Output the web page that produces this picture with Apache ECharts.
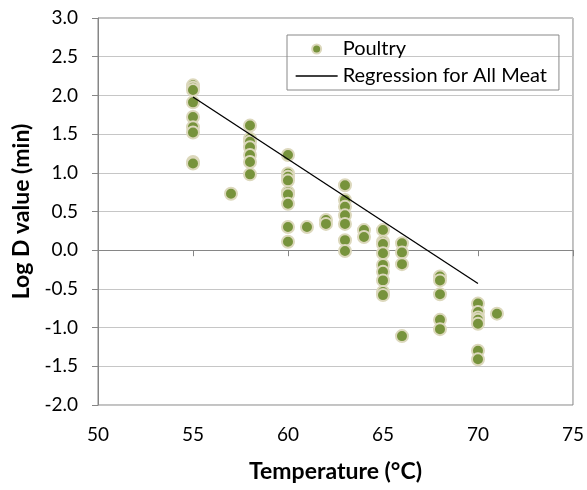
<!DOCTYPE html>
<html>
<head>
<meta charset="utf-8">
<script src="https://cdn.jsdelivr.net/npm/echarts@6/dist/echarts.min.js"></script>
<style>html,body{margin:0;padding:0;background:#fff;}#container{width:587px;height:490px;}</style>
</head>
<body>
<div id="container"></div>
<script>
// poultry points: [temperature, log D]
var poultry = [
    [55, 2.13], [55, 2.10], [55, 2.07], [55, 1.91], [55, 1.72], [55, 1.59], [55, 1.52], [55, 1.14], [55, 1.12],
    [57, 0.73],
    [58, 1.61], [58, 1.44], [58, 1.40], [58, 1.33], [58, 1.23], [58, 1.14], [58, 0.98],
    [60, 1.23], [60, 0.99], [60, 0.95], [60, 0.90], [60, 0.75], [60, 0.72], [60, 0.60], [60, 0.30], [60, 0.11],
    [61, 0.30],
    [62, 0.39], [62, 0.34],
    [63, 0.84], [63, 0.65], [63, 0.56], [63, 0.45], [63, 0.34], [63, 0.13], [63, -0.01],
    [64, 0.26], [64, 0.17],
    [65, 0.26], [65, 0.11], [65, 0.08], [65, -0.04], [65, -0.19], [65, -0.28], [65, -0.39], [65, -0.54], [65, -0.58],
    [66, 0.09], [66, -0.03], [66, -0.18], [66, -1.11],
    [68, -0.34], [68, -0.39], [68, -0.57], [68, -0.90], [68, -1.02],
    [70, -0.69], [70, -0.80], [70, -0.87], [70, -0.90], [70, -0.95], [70, -1.30], [70, -1.41],
    [71, -0.82]
];
var regression = [[55, 1.98], [70, -0.43]];
var xTicks = [50, 75, 5];
var yTicks = [-2, 3, 0.5];

var dom = document.getElementById("container");
var myChart = echarts.init(dom);
var font = 'Lato, "Open Sans", sans-serif';
var axisGray = '#868686';

var option = {
    animation: false,
    grid: {
        left: 98, right: 14, top: 18, bottom: 85,
        show: true, borderColor: axisGray, borderWidth: 1
    },
    legend: {
        orient: 'vertical',
        left: 287,
        top: 35,
        padding: [4, 12, 4, 8],
        itemGap: 7,
        itemWidth: 42,
        itemHeight: 9,
        borderColor: '#888',
        borderWidth: 1,
        borderRadius: 0,
        textStyle: { fontFamily: font, fontSize: 20, color: '#000' },
        data: [
            { name: 'Poultry', icon: 'circle' },
            {
                name: 'Regression for All Meat',
                itemStyle: { color: 'rgba(0,0,0,0)', borderWidth: 0 },
                lineStyle: { color: '#000', width: 1.3 }
            }
        ]
    },
    xAxis: {
        type: 'value',
        min: xTicks[0], max: xTicks[1], interval: xTicks[2],
        name: 'Temperature (°C)',
        nameLocation: 'middle',
        nameGap: 55,
        nameTextStyle: { fontFamily: font, fontSize: 23, fontWeight: 'bold', color: '#000' },
        axisLine: { lineStyle: { color: axisGray } },
        axisTick: { show: true, length: 6, lineStyle: { color: axisGray } },
        axisLabel: { fontFamily: font, fontSize: 19, color: '#000', margin: 20 },
        splitLine: { show: false }
    },
    yAxis: {
        type: 'value',
        min: yTicks[0], max: yTicks[1], interval: yTicks[2],
        name: 'Log D value (min)',
        nameLocation: 'middle',
        nameGap: 64,
        nameTextStyle: { fontFamily: font, fontSize: 23, fontWeight: 'bold', color: '#000' },
        axisLine: { show: true, lineStyle: { color: axisGray } },
        axisTick: { show: true, length: 6, lineStyle: { color: axisGray } },
        axisLabel: {
            fontFamily: font, fontSize: 19, color: '#000', margin: 20,
            formatter: function (v) { return v.toFixed(1); }
        },
        splitLine: { lineStyle: { color: '#c6c6c6', width: 1 } }
    },
    series: [
        {
            name: 'Poultry',
            type: 'scatter',
            symbolSize: 12,
            itemStyle: { color: '#77933C', borderColor: '#DCD8BC', borderWidth: 2, opacity: 1 },
            data: poultry
        },
        {
            name: 'Regression for All Meat',
            type: 'line',
            symbol: 'none',
            itemStyle: { color: '#000' },
            lineStyle: { color: '#000', width: 1.3 },
            data: regression
        }
    ]
};

myChart.setOption(option, true);
</script>
</body>
</html>
